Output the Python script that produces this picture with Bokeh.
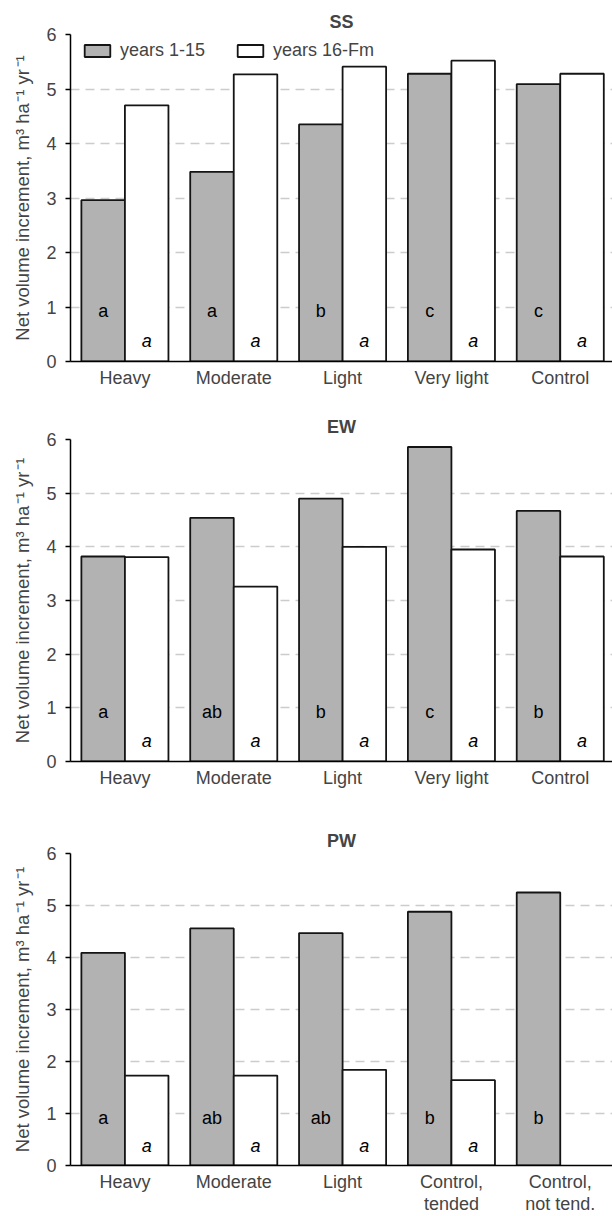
from bokeh.plotting import figure
from bokeh.models import Range1d, FixedTicker, Legend, LegendItem
from bokeh.layouts import column
from bokeh.embed import file_html
from bokeh.resources import INLINE
from bokeh.core.properties import value

# ---------------- data ----------------
cats_main = ["Heavy", "Moderate", "Light", "Very light", "Control"]
cats_pw = ["Heavy", "Moderate", "Light", "Control,\ntended", "Control,\nnot tend."]
series_names = ["years 1-15", "years 16-Fm"]

ss_early = [2.96, 3.48, 4.35, 5.28, 5.09]
ss_late = [4.70, 5.27, 5.41, 5.52, 5.28]
ss_let_early = ["a", "a", "b", "c", "c"]
ss_let_late = ["a", "a", "a", "a", "a"]

ew_early = [3.82, 4.54, 4.90, 5.86, 4.67]
ew_late = [3.81, 3.26, 4.00, 3.95, 3.82]
ew_let_early = ["a", "ab", "b", "c", "b"]
ew_let_late = ["a", "a", "a", "a", "a"]

pw_early = [4.09, 4.56, 4.47, 4.88, 5.25]
pw_late = [1.73, 1.73, 1.84, 1.64, None]
pw_let_early = ["a", "ab", "ab", "b", "b"]
pw_let_late = ["a", "a", "a", "a", None]

y_ticks = [0, 1, 2, 3, 4, 5, 6]

FONT = "Liberation Sans"
FS = "18px"
GRAY = "#b2b2b2"
EDGE = "#141414"


def make_panel(title, cats, early, late, let_e, let_l, height, b_top, b_bottom,
               show_legend=False, line_height=1.2):
    p = figure(width=612, height=height,
               x_range=Range1d(-0.5, 4.48), y_range=Range1d(0, 6),
               output_backend="svg", toolbar_location=None,
               min_border_left=70, min_border_right=0,
               min_border_top=b_top, min_border_bottom=b_bottom)
    p.outline_line_color = None
    p.background_fill_color = "white"

    # title
    p.title.text = title
    p.title.align = "center"
    p.title.text_font = FONT
    p.title.text_font_size = FS
    p.title.text_font_style = "bold"
    p.title.standoff = 5

    # grid
    p.xgrid.visible = False
    p.ygrid.ticker = FixedTicker(ticks=y_ticks[1:])
    p.ygrid.grid_line_color = "#cccccc"
    p.ygrid.grid_line_width = 1.5
    p.ygrid.grid_line_dash = "9 6"

    # y axis
    p.yaxis.ticker = FixedTicker(ticks=y_ticks)
    p.yaxis.axis_label = "Net volume increment, m³ ha\u200a⁻¹ yr\u200a⁻¹"
    p.yaxis.axis_label_text_font = FONT
    p.yaxis.axis_label_text_font_size = "18.5px"
    p.yaxis.axis_label_text_font_style = "normal"
    p.yaxis.axis_label_standoff = 10
    p.yaxis.major_label_text_font = FONT
    p.yaxis.major_label_text_font_size = FS
    p.yaxis.major_label_standoff = 9
    p.yaxis.major_tick_out = 5
    p.yaxis.major_tick_in = 0
    p.yaxis.minor_tick_out = 0
    p.yaxis.minor_tick_in = 0
    p.yaxis.axis_line_width = 1.5
    p.yaxis.axis_line_color = "black"
    p.yaxis.major_tick_line_width = 1.5

    # x axis
    idx = list(range(len(cats)))
    p.xaxis.ticker = FixedTicker(ticks=idx)
    p.xaxis.major_label_overrides = {i: c for i, c in zip(idx, cats)}
    p.xaxis.major_label_text_font = FONT
    p.xaxis.major_label_text_font_size = FS
    p.xaxis.major_label_text_line_height = line_height
    p.xaxis.major_label_standoff = 6
    p.xaxis.major_tick_out = 0
    p.xaxis.major_tick_in = 0
    p.xaxis.minor_tick_out = 0
    p.xaxis.minor_tick_in = 0
    p.xaxis.axis_line_width = 1.5
    p.xaxis.axis_line_color = "black"

    # bars
    xe = [i - 0.2 for i in idx]
    r1 = p.vbar(x=xe, width=0.4, bottom=0, top=early,
                fill_color=GRAY, line_color=EDGE, line_width=1.8)
    xl = [i + 0.2 for i, v in zip(idx, late) if v is not None]
    tl = [v for v in late if v is not None]
    r2 = p.vbar(x=xl, width=0.4, bottom=0, top=tl,
                fill_color="white", line_color=EDGE, line_width=1.8)

    # letters
    p.text(x=xe, y=[0.92] * len(xe), text=let_e,
           text_align="center", text_baseline="middle",
           text_font=value(FONT), text_font_size=FS, text_color="black")
    xlt = [i + 0.2 for i, t in zip(idx, let_l) if t]
    tlt = [t for t in let_l if t]
    p.text(x=xlt, y=[0.38] * len(xlt), text=tlt,
           text_align="center", text_baseline="middle",
           text_font=value(FONT), text_font_size=FS,
           text_font_style="italic", text_color="black")

    if show_legend:
        frame_h = height - b_top - b_bottom
        leg = Legend(items=[LegendItem(label=series_names[0], renderers=[r1]),
                            LegendItem(label=series_names[1], renderers=[r2])],
                     location=(11, frame_h - 5 - 22), orientation="horizontal")
        leg.background_fill_alpha = 0
        leg.border_line_alpha = 0
        leg.label_text_font = FONT
        leg.label_text_font_size = FS
        leg.glyph_width = 32
        leg.glyph_height = 15
        leg.label_height = 15
        leg.label_standoff = 7
        leg.spacing = 29
        leg.padding = 0
        leg.margin = 0
        p.add_layout(leg)
    return p


p1 = make_panel("SS", cats_main, ss_early, ss_late, ss_let_early, ss_let_late,
                height=400, b_top=34, b_bottom=39, show_legend=True)
p2 = make_panel("EW", cats_main, ew_early, ew_late, ew_let_early, ew_let_late,
                height=395, b_top=39, b_bottom=34)
p3 = make_panel("PW", cats_pw, pw_early, pw_late, pw_let_early, pw_let_late,
                height=421, b_top=58, b_bottom=51, line_height=1.1)

layout = column(p1, p2, p3, spacing=0)

with open("out.html", "w") as f:
    f.write(file_html(layout, INLINE))
